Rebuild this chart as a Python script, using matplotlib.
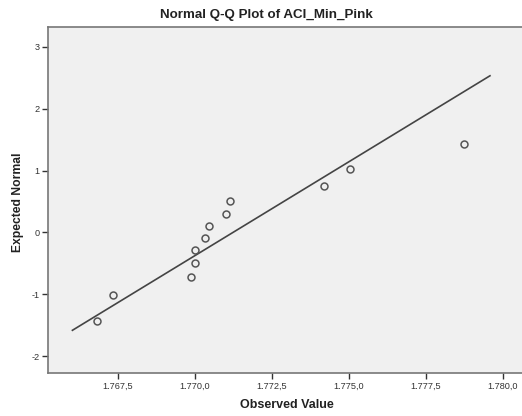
import matplotlib
matplotlib.use("Agg")
import matplotlib.pyplot as plt
from matplotlib.ticker import FixedLocator, FixedFormatter

plt.rcParams['font.family'] = ['Liberation Sans', 'DejaVu Sans']

observed = [1.76683, 1.76734, 1.76986, 1.76999, 1.77001, 1.77033,
            1.77046, 1.77101, 1.77114, 1.77418, 1.77504, 1.77874]
expected = [-1.424, -1.011, -0.726, -0.495, -0.280, -0.086,
            0.108, 0.306, 0.511, 0.745, 1.032, 1.424]
line_x = [1.76602, 1.77958]
line_y = [-1.58, 2.532]

x_ticks = [1.7675, 1.7700, 1.7725, 1.7750, 1.7775, 1.7800]
x_tick_labels = ['1.767,5', '1.770,0', '1.772,5', '1.775,0', '1.777,5', '1.780,0']
y_ticks = [-2, -1, 0, 1, 2, 3]
y_tick_labels = ['-2', '-1', '0', '1', '2', '3']

fig = plt.figure(figsize=(5.22, 4.16), dpi=100)
ax = fig.add_axes([48/522, 1-373/416, 1-48/522, (373-27)/416])
ax.set_facecolor('#f0f0f0')

ax.plot(line_x, line_y, color='#444444', lw=1.2, zorder=2)
ax.plot(observed, expected, 'o', mfc='none', mec='#555555', mew=1.1, ms=5, zorder=3)

ax.set_xlim(1.765227, 1.78062)
ax.set_ylim(-2.27, 3.32)
ax.xaxis.set_major_locator(FixedLocator(x_ticks))
ax.xaxis.set_major_formatter(FixedFormatter(x_tick_labels))
ax.yaxis.set_major_locator(FixedLocator(y_ticks))
ax.yaxis.set_major_formatter(FixedFormatter(y_tick_labels))
ax.tick_params(labelsize=6.6, colors='#333333', length=4, width=1, pad=2)

for s in ['left', 'bottom', 'top']:
    ax.spines[s].set_color('#777777')
    ax.spines[s].set_linewidth(1.2)
ax.spines['right'].set_visible(False)

fig.text(287/522, 1-405/416, 'Observed Value', ha='center', va='center',
         fontsize=9, fontweight='bold', color='#222222')
fig.text(18/522, 1-202/416, 'Expected Normal', ha='center', va='center', rotation=90,
         fontsize=8.7, fontweight='bold', color='#222222')
fig.text(266/522, 1-15/416, 'Normal Q-Q Plot of ACI_Min_Pink', ha='center', va='center',
         fontsize=9.6, fontweight='bold', color='#222222')

fig.savefig('out.png', dpi=100)
